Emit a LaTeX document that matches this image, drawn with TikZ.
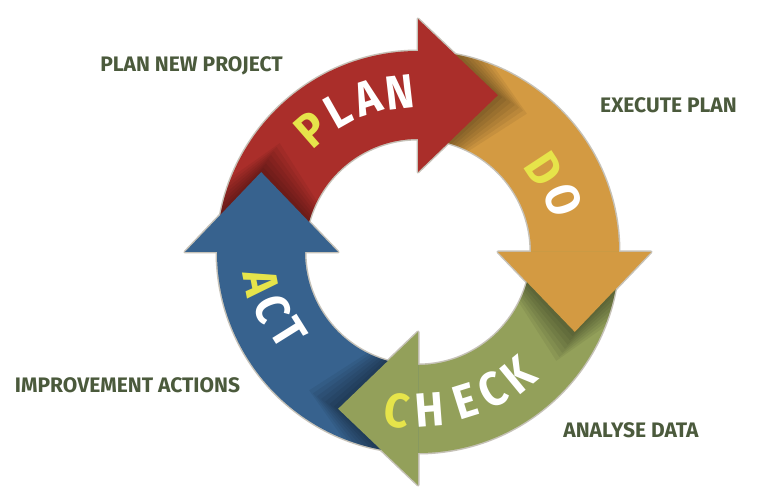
\documentclass[tikz,border=0pt]{standalone}
\usepackage{fontspec}
\setmainfont{Fira Sans}
\newfontfamily\letf{Fira Sans}[FakeStretch=0.9]
\definecolor{cred}{HTML}{AA2E2A}
\definecolor{corange}{HTML}{D39A42}
\definecolor{cgreen}{HTML}{93A05A}
\definecolor{cblue}{HTML}{37628E}
\definecolor{cyel}{HTML}{E6E44A}
\definecolor{clabel}{HTML}{4B5A3C}
\definecolor{coutl}{HTML}{C6C2B8}
\begin{document}
\begin{tikzpicture}[x=1pt,y=1pt,
  outl/.style={draw=coutl,line width=3pt,line join=round},
  letter/.style={font=\letf\fontsize{48}{48}\selectfont\bfseries,text=white,inner sep=0pt,text height=33pt,text depth=0pt},
  lab/.style={font=\fontsize{21}{21}\selectfont\bfseries,text=clabel,inner sep=0pt}]
\useasboundingbox (0,0) rectangle (764,490);
\coordinate (C) at (418,238);
\def\ri{113pt}\def\ro{201pt}
\def\bodypath#1#2{([shift={(C)}]#1:\ro) arc[start angle=#1,end angle=#2,radius=\ro] -- ([shift={(C)}]#2:\ri) arc[start angle=#2,end angle=#1,radius=\ri] -- cycle}
\def\headpath#1{([shift={(C)}]#1:80pt) -- ([shift={(C)}]#1:233pt) -- ([shift={(C)}]#1-27:176pt) -- cycle}
% outline pass
\foreach \a in {180,90,0,-90}{
  \draw[outl] \bodypath{\a}{\a-90};
  \draw[outl] \headpath{\a};
}
% bodies
\fill[cred] \bodypath{180}{90};
\fill[corange] \bodypath{90}{0};
\fill[cgreen] \bodypath{0}{-90};
\fill[cblue] \bodypath{-90}{-180};
% shadows of heads on the following bodies
\foreach \a in {90,0,-90,-180}{
  \begin{scope}
    \clip \bodypath{\a}{\a-90};
    \foreach \k in {1,...,7}{
      \fill[black,opacity=0.06] \headpath{\a-1.6*\k};
    }
  \end{scope}
}
% heads
\fill[cred] \headpath{90};
\fill[corange] \headpath{0};
\fill[cgreen] \headpath{-90};
\fill[cblue] \headpath{180};
% PLAN
\node[letter,text=cyel,rotate=41] (p1) at ([shift={(C)}]131:162pt) {P};
\node[letter,rotate=29.5] (p2) at ([shift={(C)}]119.5:162pt) {L};
\node[letter,rotate=18] (p3) at ([shift={(C)}]108:162pt) {A};
\node[letter,rotate=6.5] (p4) at ([shift={(C)}]96.5:161pt) {N};
% DO
\node[letter,text=cyel,rotate=-56.7] (d1) at ([shift={(C)}]33.3:151pt) {D};
\node[letter,rotate=-70.3] (d2) at ([shift={(C)}]19.7:154pt) {O};
% CHECK
\node[letter,text=cyel,rotate=-7.5] (c1) at ([shift={(C)}]262.5:160pt) {C};
\node[letter,rotate=4.3] (c2) at ([shift={(C)}]274.3:158pt) {H};
\node[letter,rotate=17.4] (c3) at ([shift={(C)}]287.4:157pt) {E};
\node[letter,rotate=28.2] (c4) at ([shift={(C)}]298.2:157pt) {C};
\node[letter,rotate=39.4] (c5) at ([shift={(C)}]309.4:159pt) {K};
% ACT
\node[letter,text=cyel,rotate=-79] (a1) at ([shift={(C)}]191:160pt) {A};
\node[letter,rotate=-68.5] (a2) at ([shift={(C)}]201.5:156pt) {C};
\node[letter,rotate=-58] (a3) at ([shift={(C)}]212:153pt) {T};
% labels
\node[lab] (l1) at (191.5,424.5) {PLAN NEW PROJECT};
\node[lab] (l2) at (668.5,384.5) {EXECUTE PLAN};
\node[lab] (l3) at (127.5,104.5) {IMPROVEMENT ACTIONS};
\node[lab] (l4) at (631,60) {ANALYSE DATA};
\end{tikzpicture}
\end{document}
